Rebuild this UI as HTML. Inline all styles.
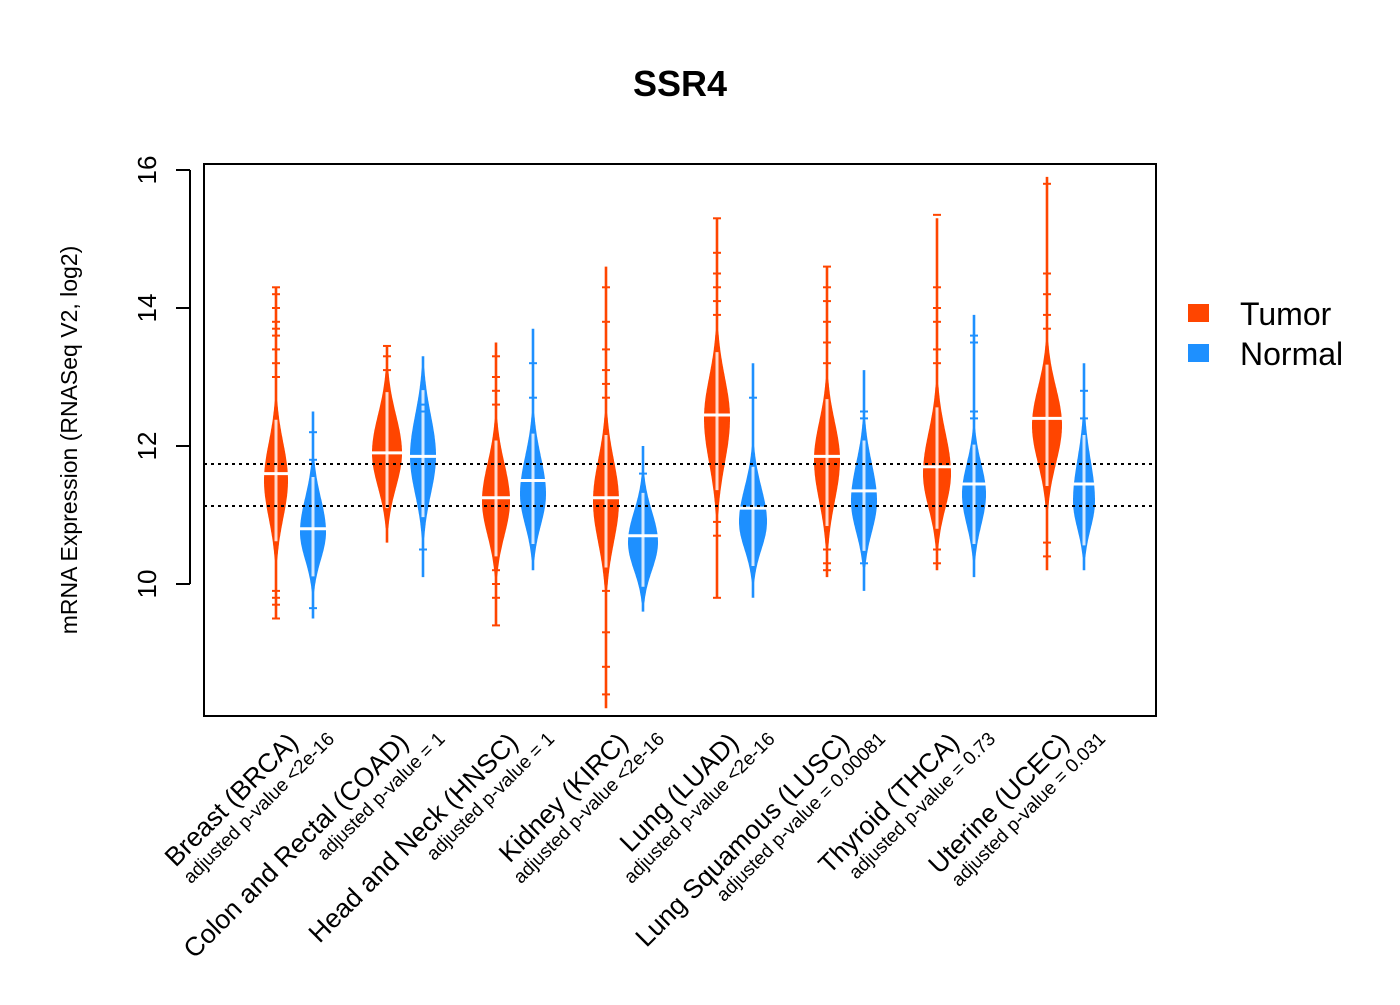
<!DOCTYPE html>
<html><head><meta charset="utf-8"><style>
body{margin:0;background:#fff}
svg text{font-family:"Liberation Sans",Arial,sans-serif}
</style></head><body>
<svg id="chart" width="1400" height="1000" xmlns="http://www.w3.org/2000/svg">
<rect width="1400" height="1000" fill="#fff"/>
<text x="680" y="96" text-anchor="middle" font-size="36" font-weight="bold">SSR4</text>
<g id="beans"></g>
<line x1="204" x2="1156" y1="464" y2="464" stroke="#000" stroke-width="2" stroke-dasharray="3,4"/>
<line x1="204" x2="1156" y1="506" y2="506" stroke="#000" stroke-width="2" stroke-dasharray="3,4"/>
<rect x="204" y="164" width="952" height="552" fill="none" stroke="#000" stroke-width="2"/>
<g id="yaxis"></g>
<text transform="translate(77,440) rotate(-90)" text-anchor="middle" font-size="23">mRNA Expression (RNASeq V2, log2)</text>
<g id="xlabels"></g>
<g>
<rect x="1188" y="304" width="21" height="18" fill="#FF4500"/>
<text x="1240" y="325" font-size="32">Tumor</text>
<rect x="1188" y="344" width="21" height="18" fill="#1E90FF"/>
<text x="1240" y="365" font-size="32">Normal</text>
</g>
</svg>
<script>
const categories=["Breast (BRCA)","Colon and Rectal (COAD)","Head and Neck (HNSC)","Kidney (KIRC)","Lung (LUAD)","Lung Squamous (LUSC)","Thyroid (THCA)","Uterine (UCEC)"];
const pvalues=["adjusted p-value <2e-16","adjusted p-value = 1","adjusted p-value = 1","adjusted p-value <2e-16","adjusted p-value <2e-16","adjusted p-value = 0.00081","adjusted p-value = 0.73","adjusted p-value = 0.031"];
const tumorMedian=[11.6,11.9,11.25,11.25,12.45,11.85,11.7,12.4];
const tumorMode=[11.5,11.9,11.2,11.2,12.4,11.8,11.6,12.3];
const tumorMin=[9.5,10.6,9.4,8.2,9.8,10.1,10.2,10.2];
const tumorMax=[14.3,13.45,13.5,14.6,15.3,14.6,15.3,15.9];
const tumorSdLo=[0.55,0.5,0.5,0.6,0.65,0.6,0.5,0.55];
const tumorSdHi=[0.55,0.55,0.55,0.6,0.6,0.55,0.6,0.55];
const tumorWidth=[12,15,14,13,13,13,14,15];
const normalMedian=[10.8,11.85,11.5,10.7,11.1,11.35,11.45,11.45];
const normalMode=[10.75,11.85,11.3,10.6,10.9,11.2,11.3,11.2];
const normalMin=[9.5,10.1,10.2,9.6,9.8,9.9,10.1,10.2];
const normalMax=[12.5,13.3,13.7,12.0,13.2,13.1,13.9,13.2];
const normalSdLo=[0.4,0.55,0.45,0.4,0.4,0.45,0.45,0.4];
const normalSdHi=[0.5,0.6,0.55,0.45,0.5,0.55,0.45,0.6];
const normalWidth=[13,13,13,15,14,13,12,11];
const tumorOutliers=[[14.3,14.2,14.0,13.8,13.7,13.6,13.4,13.2,13.0,9.9,9.8,9.7,9.5],[13.45,13.3,13.1],[13.3,13.0,12.8,12.6,10.2,10.0,9.8,9.4],[14.3,13.8,13.4,13.1,12.9,12.7,9.9,9.3,8.8,8.4],[15.3,14.8,14.5,14.3,14.1,13.9,10.9,10.7,9.8],[14.6,14.3,14.1,13.8,13.5,13.2,10.5,10.3,10.2],[15.35,14.3,14.0,13.8,13.4,13.2,10.5,10.3],[15.8,14.5,14.2,13.9,13.7,10.6,10.4]];
const normalOutliers=[[12.2,11.8,9.65],[12.6,12.5,10.5],[13.2,12.7],[11.6],[12.7],[12.5,12.4,10.3],[13.6,13.5,12.5,12.4],[12.8,12.4]];
const tumorX=[276,387,496,606,717,827,937,1047];
const normalX=[313,423,533,643,753,864,974,1084];

const NS="http://www.w3.org/2000/svg";
function y(v){return 584-(v-10)*69;}
function mk(tag,attrs,parent){const e=document.createElementNS(NS,tag);for(const k in attrs)e.setAttribute(k,attrs[k]);parent.appendChild(e);return e;}
const beans=document.getElementById('beans');
function bean(cx,mode,sdLo,sdHi,w,mn,mx,med,outs,color,name){
  const g=mk('g',{},beans);
  
  
  const right=[],left=[];
  for(let v=mn;v<=mx+1e-9;v+=0.02){
    const sd=v<mode?sdLo:sdHi;
    const d=Math.exp(-0.5*Math.pow((v-mode)/sd,2));
    const hw=Math.max(1.3,w*d);
    right.push((cx+hw).toFixed(1)+','+y(v).toFixed(1));
    left.unshift((cx-hw).toFixed(1)+','+y(v).toFixed(1));
  }
  const p=mk('polygon',{points:right.concat(left).join(' '),fill:color},g);
  
  
  const lo=mode-1.6*sdLo,hi=mode+1.6*sdHi;
  const s=mk('line',{x1:cx,x2:cx,y1:y(lo),y2:y(hi),stroke:'#fff','stroke-width':3,opacity:0.8},g);
  
  
  outs.forEach(o=>{
    const t=mk('line',{x1:cx-4,x2:cx+4,y1:y(o),y2:y(o),stroke:color,'stroke-width':2},g);
    
    
  });
  const m=mk('line',{x1:cx-w,x2:cx+w,y1:y(med),y2:y(med),stroke:'#fff','stroke-width':3},g);
  
  
}
for(let i=0;i<categories.length;i++){
  bean(tumorX[i],tumorMode[i],tumorSdLo[i],tumorSdHi[i],tumorWidth[i],tumorMin[i],tumorMax[i],tumorMedian[i],tumorOutliers[i],'#FF4500','bean-tumor-'+i);
  bean(normalX[i],normalMode[i],normalSdLo[i],normalSdHi[i],normalWidth[i],normalMin[i],normalMax[i],normalMedian[i],normalOutliers[i],'#1E90FF','bean-normal-'+i);
}
const ya=document.getElementById('yaxis');
const yTicks=[10,12,14,16];
mk('line',{x1:190,x2:190,y1:y(10),y2:y(16),stroke:'#000','stroke-width':2},ya);
yTicks.forEach(t=>{
  const l=mk('line',{x1:176,x2:190,y1:y(t),y2:y(t),stroke:'#000','stroke-width':2},ya);
  
  
  const tx=mk('text',{transform:`translate(156,${y(t)}) rotate(-90)`,'text-anchor':'middle','font-size':26},ya);
  tx.textContent=t;
  
  
});
const xl=document.getElementById('xlabels');
for(let i=0;i<categories.length;i++){
  const c=(tumorX[i]+normalX[i])/2;
  const a=mk('text',{transform:`translate(${c+5},${744}) rotate(-45)`,'text-anchor':'end','font-size':26.5},xl);
  a.textContent=categories[i];
  
  
  const b=mk('text',{transform:`translate(${c+41},${740}) rotate(-45)`,'text-anchor':'end','font-size':19},xl);
  b.textContent=pvalues[i];
  
  
}
</script>
</body></html>
